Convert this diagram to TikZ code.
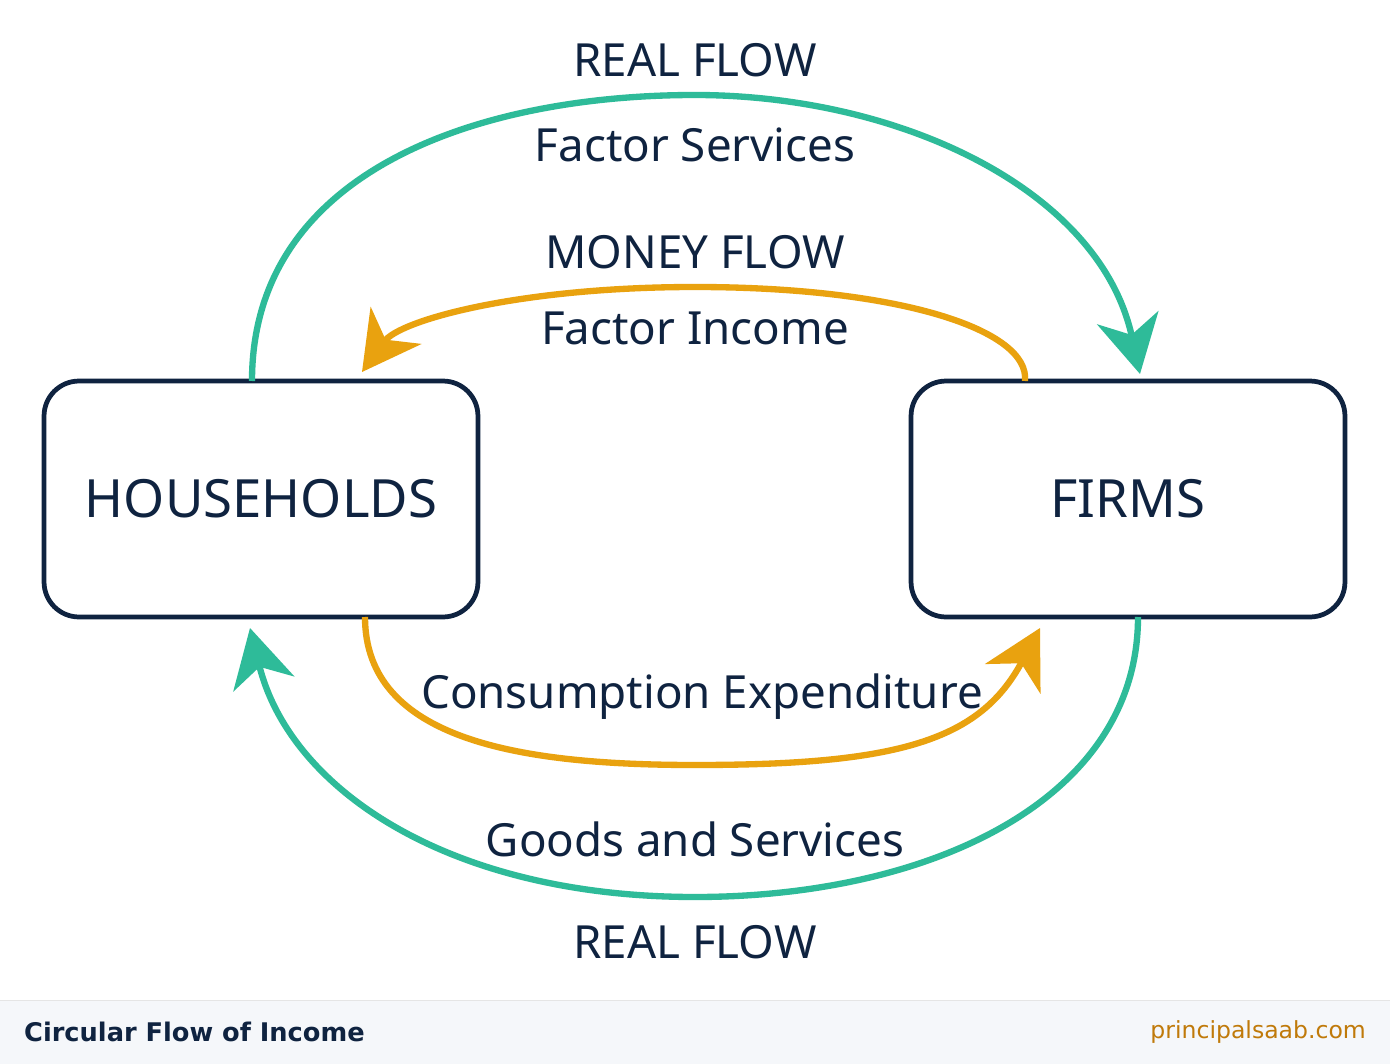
\documentclass[tikz,border=0pt]{standalone}
\usepackage{fontspec}
\setmainfont{Noto Sans}
\newfontfamily\footfont{DejaVu Sans}
\usetikzlibrary{arrows.meta}
\usetikzlibrary{positioning}
\definecolor{navy}{HTML}{0F2340}
\definecolor{teal}{HTML}{2EBB99}
\definecolor{amber}{HTML}{E9A20F}
\definecolor{footbg}{HTML}{F5F7FA}
\definecolor{site}{HTML}{C07A0A}
\begin{document}
\begin{tikzpicture}[x=0.02cm,y=-0.02cm]
  \tikzstyle{box}=[draw=navy, line width=2.7pt, rounded corners=0.7cm, minimum width=8.68cm, minimum height=4.72cm, font=\fontsize{30}{36}\selectfont, text=navy]
  \tikzstyle{lbl}=[text=navy, font=\fontsize{26}{31}\selectfont]
  \tikzstyle{real}=[draw=teal, line width=3.6pt, -{Stealth[length=1.15cm,width=1.25cm,inset=0.35cm]}]
  \tikzstyle{money}=[draw=amber, line width=3.6pt, -{Stealth[length=1.15cm,width=1.25cm,inset=0.35cm]}]
  \useasboundingbox (0,0) rectangle (1390,1064);
  \fill[white] (0,0) rectangle (1390,1064);
  \fill[footbg] (0,1000) rectangle (1390,1064);
  \draw[gray!20] (0,1000) -- (1390,1000);
  \node[box] (hh) at (261,499) {HOUSEHOLDS};
  \node[box] (fi) at (1128,499) {FIRMS};
  % connector ends
  \coordinate (rt1) at (252,381);
  \coordinate (rt2) at (1140,374);
  \coordinate (mt1) at (1025,381);
  \coordinate (mt2) at (362,372);
  \coordinate (mb1) at (365,617);
  \coordinate (mb2) at (1040,628);
  \coordinate (rb1) at (1138,617);
  \coordinate (rb2) at (250,628);
  \draw[real] (rt1) .. controls (252,170) and (480,95) .. (695,95) .. controls (900,95) and (1100,190) .. (rt2);
  \draw[money] (mt1) .. controls (1030,330) and (900,287) .. (695,287) .. controls (520,287) and (400,320) .. (mt2);
  \draw[money] (mb1) .. controls (365,740) and (520,765) .. (695,765) .. controls (900,765) and (980,740) .. (mb2);
  \draw[real] (rb1) .. controls (1138,800) and (930,897) .. (695,897) .. controls (450,897) and (290,790) .. (rb2);
  \node[lbl] (rf1) at (695,60) {REAL FLOW};
  \node[lbl] (fs) at (695,145) {Factor Services};
  \node[lbl] (mf) at (695,252) {MONEY FLOW};
  \node[lbl] (fin) at (695,328) {Factor Income};
  \node[lbl] (ce) at (702,697) {Consumption Expenditure};
  \node[lbl] (gs) at (695,839) {Goods and Services};
  \node[lbl] (rf2) at (695,942) {REAL FLOW};
  \node[anchor=west, text=navy, font=\footfont\fontsize{14.6}{17}\selectfont\bfseries] (ttl) at (18,1032) {Circular Flow of Income};
  \node[anchor=east, text=site, font=\footfont\fontsize{13.4}{16}\selectfont] (url) at (1372,1032) {principalsaab.com};
\end{tikzpicture}
\end{document}
